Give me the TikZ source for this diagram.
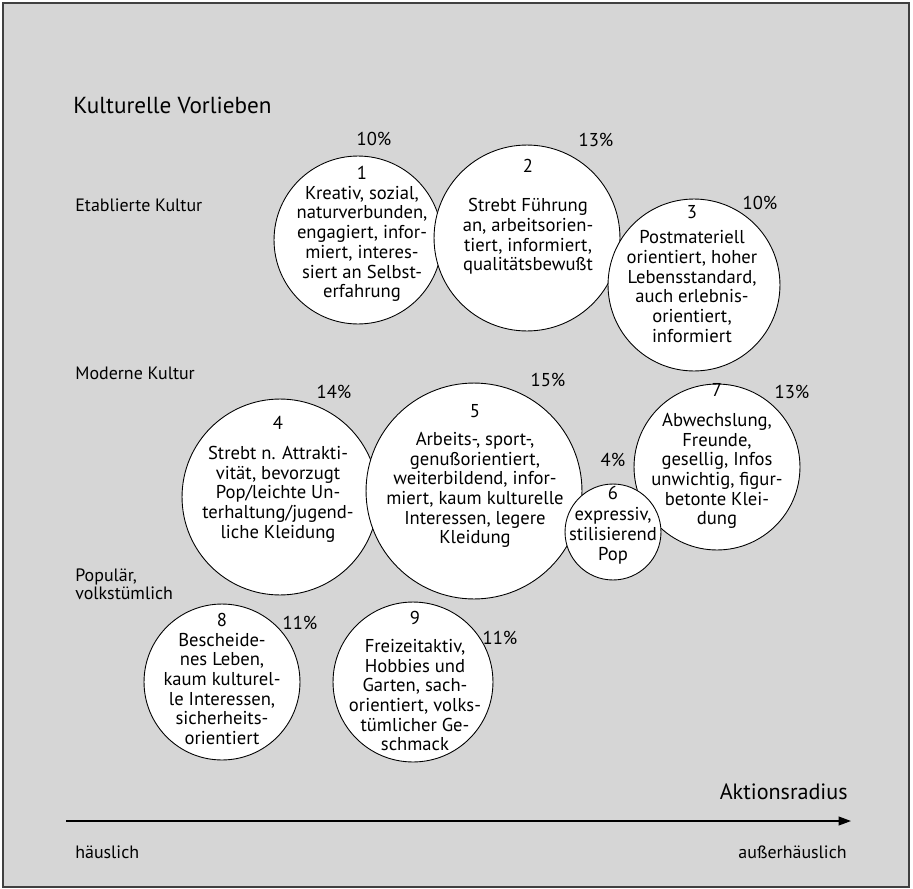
\documentclass[tikz,border=0pt]{standalone}
\usepackage{fontspec}
\setmainfont{PT Sans}
\usetikzlibrary{arrows.meta}
\tikzstyle{bubble} = [circle,draw,fill=white,line width=0.5pt,inner sep=0pt]
\tikzstyle{btext} = [align=center,inner sep=0pt,font=\fontsize{10.6}{11.2}\selectfont]
\tikzstyle{pct} = [inner sep=0pt,font=\fontsize{10.6}{11.2}\selectfont]
\tikzstyle{side} = [anchor=west,align=left,inner sep=0pt,font=\fontsize{10.2}{10.4}\selectfont]
\tikzstyle{head} = [inner sep=0pt,font=\fontsize{12.6}{14}\selectfont]
\newcommand{\milieu}[7]{
	\node(m#1) at (#2) [bubble, minimum size=#3*0.04cm] {};
	\node(m#1txt) at (#4) [btext] {#5};
	\node(m#1pct) at (#6) [pct] {#7\%};
}

\begin{document}
\begin{tikzpicture}[x=0.02cm,y=-0.02cm]
	\useasboundingbox (0,0) rectangle (913,889);
	\fill[black!16] (3,3) rectangle (909,887);
	\draw[black!75,line width=0.6pt] (3,3) rectangle (909,887);

	\node(title) at (73,105) [head, anchor=west, font=\fontsize{13.2}{14}\selectfont] {Kulturelle Vorlieben};
	\node(etab) at (75,205) [side] {Etablierte Kultur};
	\node(mod) at (75,373) [side] {Moderne Kultur};
	\node(pop) at (75,584) [side] {Populär,\\volkstümlich};

	\milieu{1}{358,240}{84}{362,234}{1\\Kreativ, sozial,\\naturverbunden,\\engagiert, infor-\\miert, interes-\\siert an Selbst-\\erfahrung}{374,139}{10}
	\milieu{2}{527,238}{93}{528,217}{2\\[11.2pt]Strebt Führung\\an, arbeitsorien-\\tiert, informiert,\\qualitätsbewußt}{596,140}{13}
	\milieu{3}{694,285}{86}{692,274}{3\\[3pt]Postmateriell\\orientiert, hoher\\Lebensstandard,\\auch erlebnis-\\orientiert,\\informiert}{760,203}{10}
	\milieu{4}{280,497}{98}{278,479}{4\\[6pt]Strebt n. Attrakti-\\vität, bevorzugt\\Pop/leichte Un-\\terhaltung/jugend-\\liche Kleidung}{334,392}{14}
	\milieu{5}{474,491}{108}{475,476}{5\\[5pt]Arbeits-, sport-,\\genußorientiert,\\weiterbildend, infor-\\miert, kaum kulturelle\\Interessen, legere\\Kleidung}{548,380}{15}
	\milieu{7}{717,467}{83}{717,456}{7\\[6pt]Abwechslung,\\Freunde,\\gesellig, Infos\\unwichtig, figur-\\betonte Klei-\\dung}{792,392}{13}
	\milieu{6}{613,532}{48}{613,525}{6\\[1pt]expressiv,\\stilisierend\\Pop}{613,460}{4}
	\milieu{8}{222,682}{78}{222,679}{8\\Bescheide-\\nes Leben,\\kaum kulturel-\\le Interessen,\\sicherheits-\\orientiert}{300,623}{11}
	\milieu{9}{413,682}{80}{415,681}{9\\[5pt]Freizeitaktiv,\\Hobbies und\\Garten, sach-\\orientiert, volks-\\tümlicher Ge-\\schmack}{500,638}{11}

	\coordinate(axstart) at (66,821);
	\coordinate(axend) at (851,821);
	\draw[line width=0.7pt,-{Triangle[length=7pt,width=5pt]}] (axstart) -- (axend);
	\node(axis) at (848,792) [head, anchor=east] {Aktionsradius};
	\node(home) at (75,852) [side] {häuslich};
	\node(out) at (847,852) [side, anchor=east] {außerhäuslich};
\end{tikzpicture}
\end{document}
